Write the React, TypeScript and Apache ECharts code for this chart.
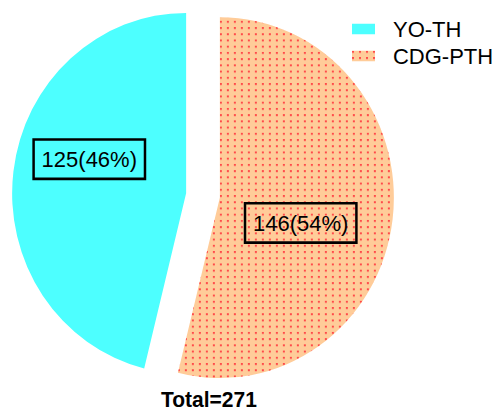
import React, { useEffect, useRef } from "react";
import * as echarts from "echarts";

const categories = ["YO-TH", "CDG-PTH"];
const values = [125, 146];
const percents = ["46%", "54%"];
const totalLabel = "Total=271";

const SY = 1.037; // the reference pie is slightly taller than wide

export default function App() {
  const ref = useRef<HTMLDivElement>(null);
  useEffect(() => {
    document.body.style.margin = "0";
    const chart = echarts.init(ref.current!, null, { renderer: "svg" });
    const font = "'Liberation Sans', Arial, Helvetica, sans-serif";
    const colors = ["#4DFFFF", "#FFCC99"];
    const data = categories.map((name, i) => ({
      name,
      value: values[i],
      selected: true,
      itemStyle:
        i === 1
          ? {
              color: colors[i],
              decal: {
                symbol: "rect",
                symbolSize: 1,
                color: "#FF4A4A",
                backgroundColor: colors[i],
                dashArrayX: [2, 5],
                dashArrayY: [2, 4],
                rotation: 0,
              },
            }
          : { color: colors[i] },
    }));
    chart.setOption({
      animation: false,
      title: {
        text: totalLabel,
        left: 161,
        top: 375,
        padding: 0,
        textStyle: { fontFamily: font, fontSize: 21, fontWeight: "bold", color: "#000" },
      },
      legend: {
        orient: "vertical",
        left: 352,
        top: 17,
        itemWidth: 23,
        itemHeight: 10,
        itemGap: 4,
        icon: "rect",
        padding: 0,
        textStyle: { fontFamily: font, fontSize: 22, color: "#000", padding: [0, 0, 0, 13] },
        data: categories,
      },
      series: [
        {
          type: "pie",
          center: [203, 188.5],
          radius: [0, 174],
          startAngle: 90,
          clockwise: false,
          selectedMode: "multiple",
          selectedOffset: 17,
          emphasis: { disabled: true },
          label: {
            show: true,
            position: "inside",
            formatter: (p: any) => `${values[p.dataIndex]}(${percents[p.dataIndex]})`,
            fontFamily: font,
            fontSize: 22,
            color: "#000",
            borderColor: "#000",
            borderWidth: 2.5,
            padding: [6, 8],
            lineHeight: 26,
          },
          labelLayout: (p: any) =>
            p.dataIndex === 0 ? { dx: -7.5, dy: -22 } : { dx: -8.5, dy: 13.5 },
          labelLine: { show: false },
          data,
        },
      ],
    });
    return () => chart.dispose();
  }, []);
  return (
    <div style={{ width: 498, height: 411, overflow: "hidden", position: "relative" }}>
      <div
        ref={ref}
        style={{
          width: 498,
          height: 411 / SY,
          transform: `scaleY(${SY})`,
          transformOrigin: "0 0",
        }}
      />
    </div>
  );
}
